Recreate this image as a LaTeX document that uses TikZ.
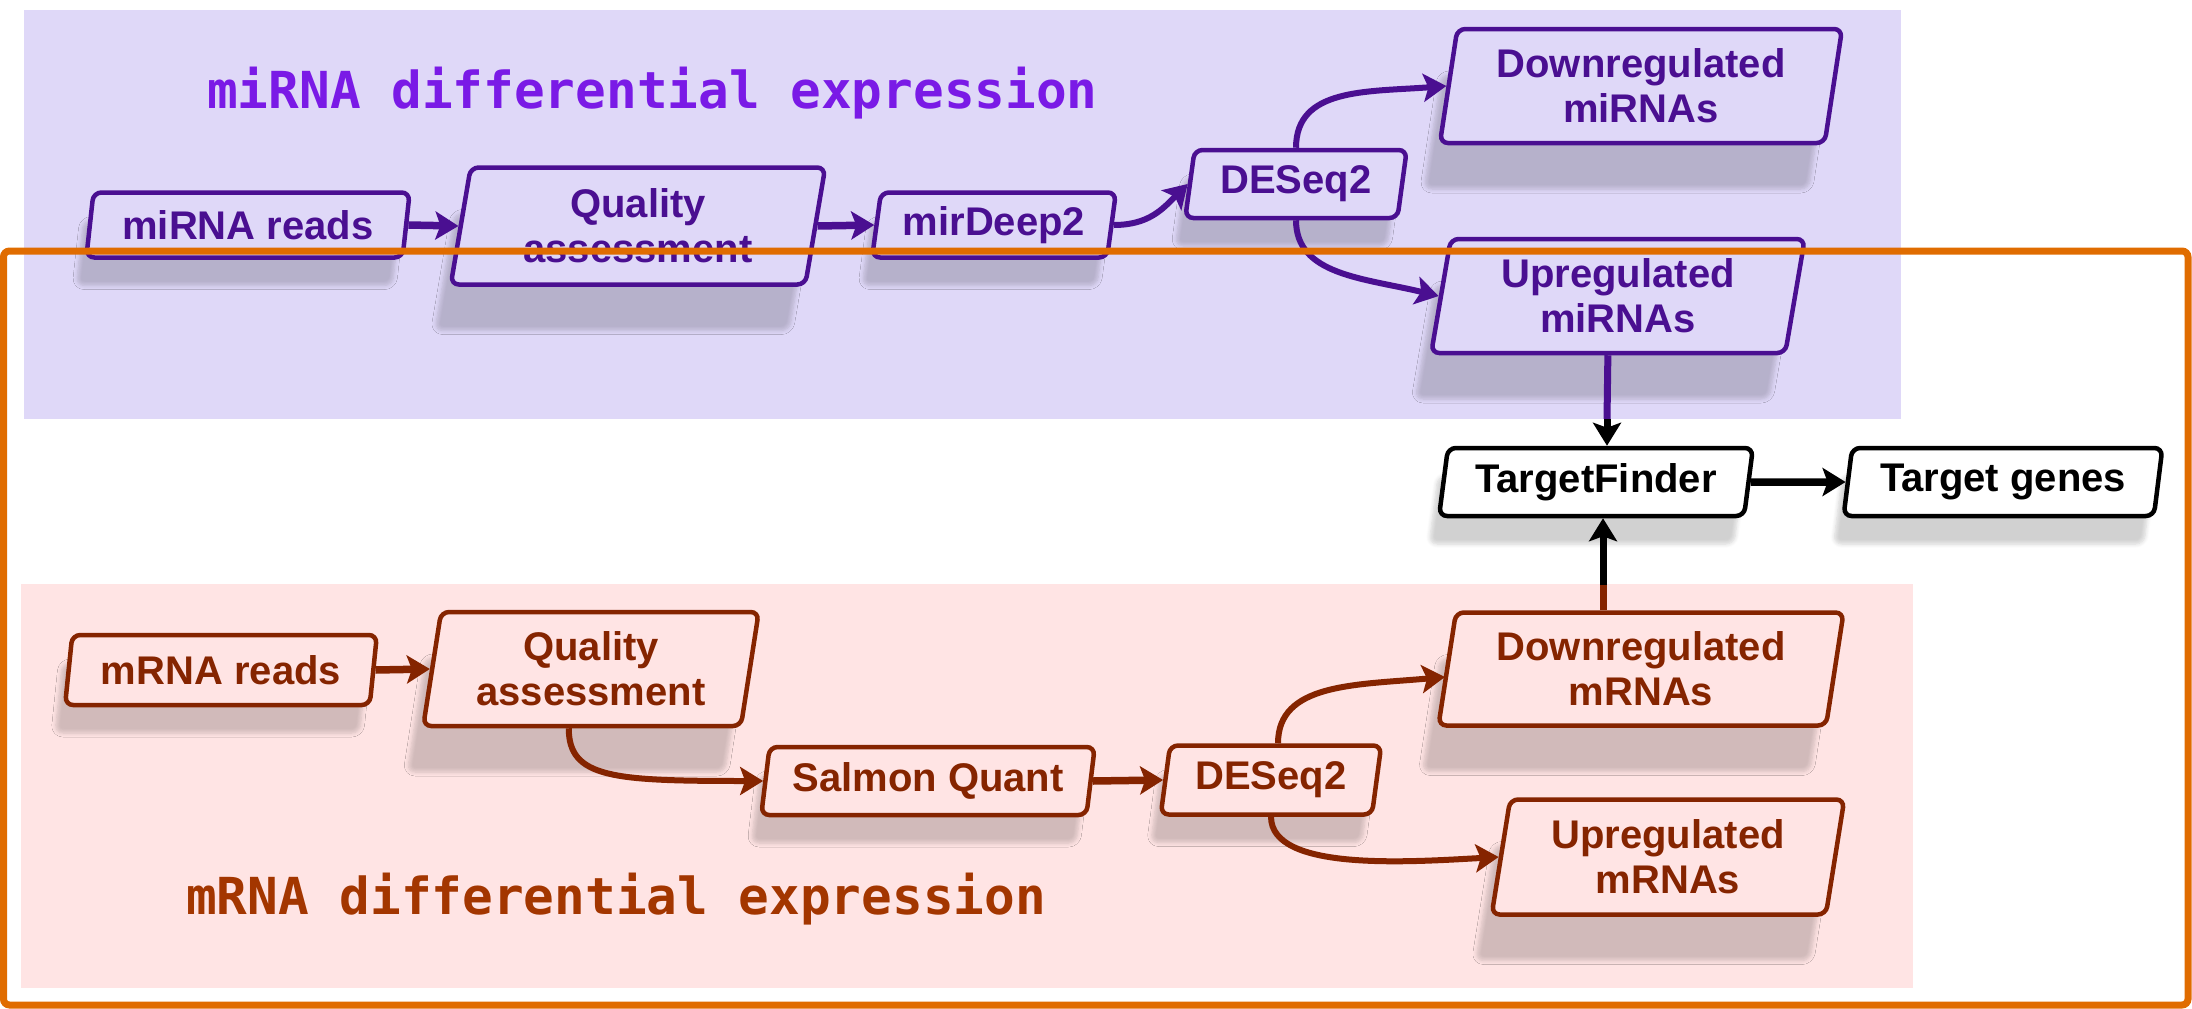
\documentclass[tikz,border=0pt]{standalone}
\usepackage{fontspec}
\setmainfont{Liberation Sans}
\newfontfamily\titlefont{DejaVu Sans Mono}
\usetikzlibrary{shapes.geometric,arrows.meta,shadows.blur}
\definecolor{pbg}{HTML}{DFD8F8}
\definecolor{pdk}{HTML}{4A0F91}
\definecolor{ptitle}{HTML}{7A1AE6}
\definecolor{rbg}{HTML}{FFE4E4}
\definecolor{rdk}{HTML}{852400}
\definecolor{rtitle}{HTML}{A33600}
\definecolor{frameor}{HTML}{E06C00}
\tikzset{
  box/.style={shape=trapezium, trapezium left angle=80, trapezium right angle=100,
    trapezium stretches=true, rounded corners=8pt, line width=4.5pt, inner sep=2pt,
    align=center, font=\fontsize{40}{45}\selectfont\bfseries},
  pbox/.style={box, draw=pdk, fill=pbg, text=pdk},
  rbox/.style={box, draw=rdk, fill=rbg, text=rdk},
  kbox/.style={box, draw=black, fill=white, text=black},
  shsmall/.style={blur shadow={shadow xshift=-10pt, shadow yshift=-28pt, shadow blur radius=4pt, shadow blur steps=6, shadow opacity=18}},
  shbig/.style={blur shadow={shadow xshift=-16pt, shadow yshift=-46pt, shadow blur radius=4pt, shadow blur steps=6, shadow opacity=18}},
  arr/.style={line width=7.5pt, -{Stealth[length=23pt,width=28pt,inset=5pt]}},
  carr/.style={line width=6pt, -{Stealth[length=23pt,width=28pt,inset=5pt]}},
  parr/.style={arr, draw=pdk},
  pcarr/.style={carr, draw=pdk},
  rarr/.style={arr, draw=rdk},
  rcarr/.style={carr, draw=rdk},
  karr/.style={arr, draw=black},
  ttl/.style={anchor=base west, inner sep=0pt, font=\titlefont\bfseries\fontsize{51}{51}\selectfont}
}
\begin{document}
\begin{tikzpicture}[x=1pt,y=-1pt]
\useasboundingbox (0,0) rectangle (2192,1009);
% regions
\fill[pbg] (24,10) rectangle (1901,419);
\fill[rbg] (21,584) rectangle (1913,988);
% titles
\node[ttl, text=ptitle] (ttl1) at (207,108) {miRNA differential expression};
\node[ttl, text=rtitle] (ttl2) at (186,914) {mRNA differential expression};
% miRNA boxes
\node[pbox, shsmall, minimum width=324pt, minimum height=65pt] (mr) at (248,225) {miRNA reads};
\node[pbox, shbig, minimum width=375pt, minimum height=117pt] (mq) at (638,226) {Quality\\assessment};
\node[pbox, shsmall, minimum width=244pt, minimum height=65pt] (md) at (994,225) {mirDeep2};
\node[pbox, shsmall, minimum width=222pt, minimum height=68pt] (mde) at (1296,184) {DESeq2};
\node[pbox, shbig, minimum width=403pt, minimum height=114pt] (mdown) at (1641,86) {Downregulated\\miRNAs};
\node[pbox, shbig, minimum width=374pt, minimum height=114pt] (mup) at (1618,296) {Upregulated\\miRNAs};
% black boxes
\node[kbox, shsmall, minimum width=315pt, minimum height=68pt] (tf) at (1596,482) {TargetFinder};
\node[kbox, shsmall, minimum width=319pt, minimum height=68pt] (tg) at (2003,482) {Target genes};
% mRNA boxes
\node[rbox, shsmall, minimum width=312pt, minimum height=70pt] (rr) at (221,670) {mRNA reads};
\node[rbox, shbig, minimum width=336pt, minimum height=114pt] (rq) at (591,669) {Quality\\assessment};
\node[rbox, shsmall, minimum width=334pt, minimum height=68pt] (rs) at (928,781) {Salmon Quant};
\node[rbox, shsmall, minimum width=221pt, minimum height=69pt] (rde) at (1271,780) {DESeq2};
\node[rbox, shbig, minimum width=406pt, minimum height=113pt] (rdown) at (1641,669) {Downregulated\\mRNAs};
\node[rbox, shbig, minimum width=353pt, minimum height=115pt] (rup) at (1668,857) {Upregulated\\mRNAs};
% miRNA arrows
\draw[parr] (mr.east) -- (mq.west);
\draw[parr] (mq.east) -- (md.west);
\draw[pcarr] (md.east) .. controls +(35,0) and +(-25,25) .. (mde.west);
\draw[pcarr] (mde.north) .. controls +(0,-60) and +(-80,6) .. (mdown.west);
\draw[pcarr] (mde.south) .. controls +(0,55) and +(-75,-18) .. (mup.west);
% to TargetFinder
\coordinate (pb) at (1607,419);
\coordinate (rb) at (1603,585);
\draw[line width=7pt, pdk] (mup.bottom side) -- (pb);
\draw[karr, line width=7pt] (pb) -- (pb |- tf.north);
\draw[line width=7pt, rdk] (rdown.north -| rb) -- (rb);
\draw[karr, line width=7pt] (rb) -- (rb |- tf.south);
\draw[karr] (tf.east) -- (tg.west);
% mRNA arrows
\draw[rarr] (rr.east) -- (rq.west);
\draw[rcarr] ([xshift=-13pt]rq.bottom side) .. controls +(0,50) and +(-150,0) .. (rs.west);
\draw[rarr] (rs.east) -- (rde.west);
\draw[rcarr] ([xshift=7pt]rde.north) .. controls +(0,-60) and +(-90,8) .. ([yshift=-8pt]rdown.west);
\draw[rcarr] (rde.south) .. controls +(0,55) and +(-90,5) .. (rup.west);
% orange frame
\draw[frameor, line width=7pt, rounded corners=6pt] (3.5,251) rectangle (2188,1005);
\end{tikzpicture}
\end{document}
